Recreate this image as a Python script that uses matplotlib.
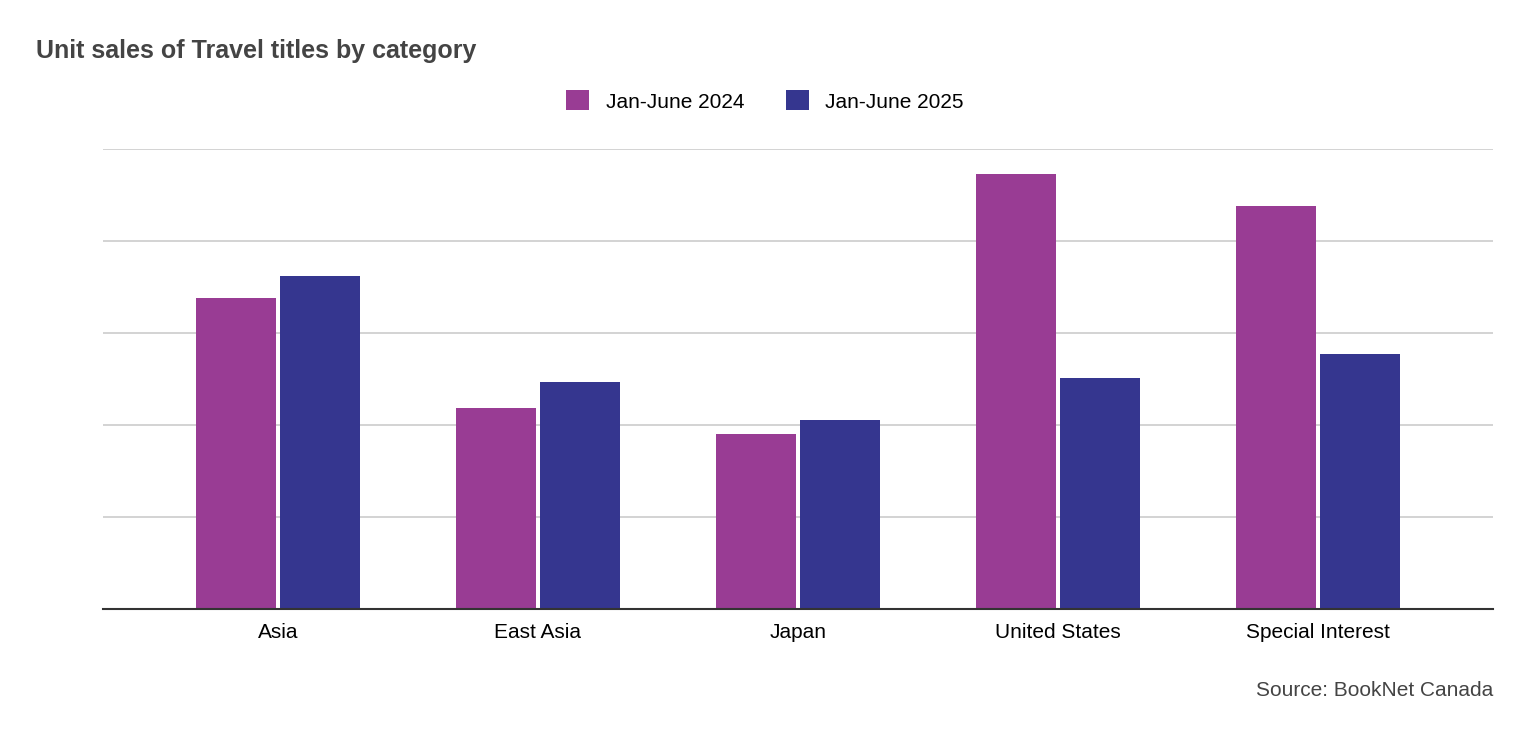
import matplotlib.pyplot as plt
import numpy as np

categories = ['Asia', 'East Asia', 'Japan', 'United States', 'Special Interest']
sales_2024 = [3.38, 2.18, 1.90, 4.73, 4.38]
sales_2025 = [3.62, 2.47, 2.05, 2.51, 2.77]

fig = plt.figure(figsize=(15.3, 7.42), dpi=100)
ax = fig.add_axes([103/1530, 133/742, 1390/1530, 460/742])

x = np.arange(len(categories))
w = 80/260
off = 42/260
ax.bar(x - off, sales_2024, w, color='#993C94', label='Jan-June 2024', zorder=3)
ax.bar(x + off, sales_2025, w, color='#35368F', label='Jan-June 2025', zorder=3)

ax.set_xlim(-175/260, 4 + 175/260)
ax.set_ylim(0, 5)
ax.set_yticks([1, 2, 3, 4, 5])
ax.yaxis.grid(True, color='#cccccc', linewidth=1.2, zorder=0)
ax.tick_params(axis='y', left=False, labelleft=False)
ax.set_xticks(x)
ax.set_xticklabels(categories, fontsize=15, family='Liberation Sans')
ax.tick_params(axis='x', length=0, pad=10)
for s in ['top', 'right', 'left']:
    ax.spines[s].set_visible(False)
ax.spines['bottom'].set_color('#333333')
ax.spines['bottom'].set_linewidth(1.5)
ax.spines['bottom'].set_zorder(4)

fig.text(36/1530, 1 - 51/742, 'Unit sales of Travel titles by category', fontsize=18,
         fontweight='bold', color='#444444', family='Liberation Sans', va='center')
fig.legend(loc='center', bbox_to_anchor=(765/1530, 1 - 101/742), ncol=2, frameon=False,
           prop={'family': 'Liberation Sans', 'size': 15}, handlelength=1.1, handleheight=1.1,
           columnspacing=2.0, handletextpad=0.8)
fig.text(1493/1530, 1 - 691/742, 'Source: BookNet Canada', fontsize=15, color='#444444',
         family='Liberation Sans', ha='right', va='center')

fig.savefig('out.png', dpi=100)
